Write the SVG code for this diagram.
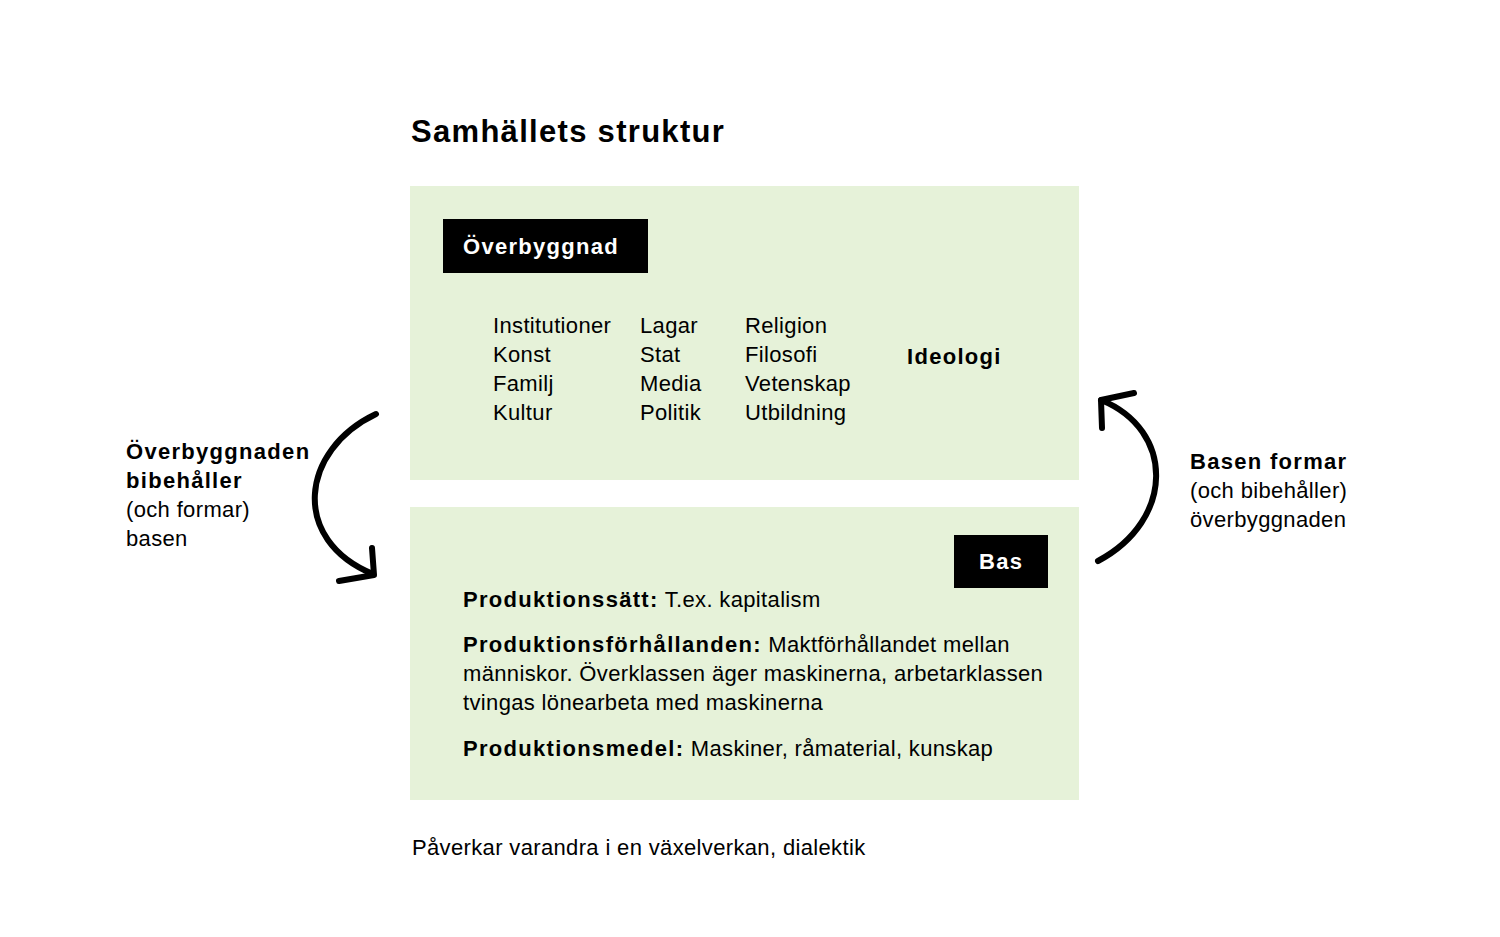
<svg xmlns="http://www.w3.org/2000/svg" width="1500" height="937" viewBox="0 0 1500 937">
<style>
text{font-family:"Liberation Sans",Arial,sans-serif;fill:#000;font-size:22px;letter-spacing:0.35px}
.b{font-weight:bold;letter-spacing:1.3px}
.w{fill:#fff;font-weight:bold;letter-spacing:1.3px}
.panel{fill:#e6f2d9}
.arc{fill:none;stroke:#000;stroke-width:6;stroke-linecap:round;stroke-linejoin:round}
</style>
<rect width="1500" height="937" fill="#fff"/>
<text id="title" x="411" y="142" class="b" style="font-size:31px;letter-spacing:1.3px">Samhällets struktur</text>
<g id="overbyggnad">
<rect class="panel" x="410" y="186" width="669" height="294"/>
<rect x="443" y="219" width="205" height="54" fill="#000"/>
<text x="463" y="254" class="w">Överbyggnad</text>
<text x="493" y="333">Institutioner</text>
<text x="493" y="362">Konst</text>
<text x="493" y="391">Familj</text>
<text x="493" y="420">Kultur</text>
<text x="640" y="333">Lagar</text>
<text x="640" y="362">Stat</text>
<text x="640" y="391">Media</text>
<text x="640" y="420">Politik</text>
<text x="745" y="333">Religion</text>
<text x="745" y="362">Filosofi</text>
<text x="745" y="391">Vetenskap</text>
<text x="745" y="420">Utbildning</text>
<text x="907" y="364" class="b">Ideologi</text>
</g>
<g id="bas">
<rect class="panel" x="410" y="507" width="669" height="293"/>
<rect x="954" y="535" width="94" height="53" fill="#000"/>
<text x="979" y="569" class="w">Bas</text>
<text x="463" y="607"><tspan class="b">Produktionssätt:</tspan> T.ex. kapitalism</text>
<text x="463" y="652"><tspan class="b">Produktionsförhållanden:</tspan> Maktförhållandet mellan</text>
<text x="463" y="681">människor. Överklassen äger maskinerna, arbetarklassen</text>
<text x="463" y="710">tvingas lönearbeta med maskinerna</text>
<text x="463" y="756"><tspan class="b">Produktionsmedel:</tspan> Maskiner, råmaterial, kunskap</text>
</g>
<g id="label-left">
<text x="126" y="459" class="b">Överbyggnaden</text>
<text x="126" y="488" class="b">bibehåller</text>
<text x="126" y="517">(och formar)</text>
<text x="126" y="546">basen</text>
</g>
<g id="label-right">
<text x="1190" y="469" class="b">Basen formar</text>
<text x="1190" y="498">(och bibehåller)</text>
<text x="1190" y="527">överbyggnaden</text>
</g>
<g id="connectors">
<path class="arc" d="M376,414 C300,450 290,540 373,574"/>
<path class="arc" d="M372,548 L374,575 L339,581"/>
<path class="arc" d="M1098,561 C1175,520 1175,430 1101,400"/>
<path class="arc" d="M1102,428 L1101,400 L1134,393"/>
</g>
<text id="footer" x="412" y="855">Påverkar varandra i en växelverkan, dialektik</text>
</svg>
